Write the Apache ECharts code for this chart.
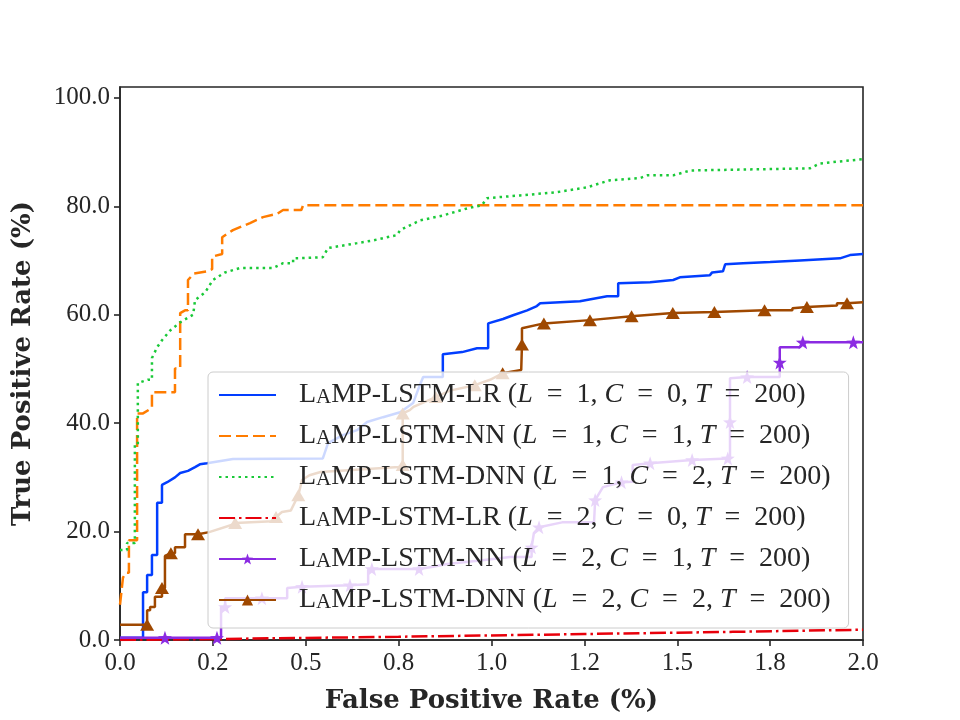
<!DOCTYPE html>
<html>
<head>
<meta charset="utf-8">
<script src="https://cdn.jsdelivr.net/npm/echarts@6/dist/echarts.min.js"></script>
<style>
html, body { margin: 0; padding: 0; background: #fff; }
#chart { width: 960px; height: 720px; }
</style>
</head>
<body>
<div id="chart"></div>
<script>
// ROC curves, values in %: [fpr, tpr] (third item 1 = marker drawn there)
const seriesNames = [
    'LaMP-LSTM-LR (L = 1, C = 0, T = 200)',
    'LaMP-LSTM-NN (L = 1, C = 1, T = 200)',
    'LaMP-LSTM-DNN (L = 1, C = 2, T = 200)',
    'LaMP-LSTM-LR (L = 2, C = 0, T = 200)',
    'LaMP-LSTM-NN (L = 2, C = 1, T = 200)',
    'LaMP-LSTM-DNN (L = 2, C = 2, T = 200)'
];

const xTicks = [0, 0.25, 0.5, 0.75, 1.0, 1.25, 1.5, 1.75, 2.0];
const xTickLabels = ['0.0', '0.2', '0.5', '0.8', '1.0', '1.2', '1.5', '1.8', '2.0'];
const yTicks = [0, 20, 40, 60, 80, 100];
const yTickLabels = ['0.0', '20.0', '40.0', '60.0', '80.0', '100.0'];

const lr1 = [
    [0, 0.4], [0.062, 0.4], [0.062, 8.8], [0.073, 8.8], [0.073, 12.0], [0.086, 12.0], [0.086, 15.7],
    [0.10, 15.7], [0.10, 25.3], [0.113, 25.3], [0.113, 28.6], [0.127, 29.1], [0.148, 30.0], [0.162, 30.8],
    [0.183, 31.2], [0.202, 31.9], [0.215, 32.4], [0.234, 32.6], [0.304, 33.4], [0.546, 33.5], [0.56, 36.3],
    [0.60, 37.8], [0.638, 38.7], [0.665, 40.2], [0.708, 41.1], [0.754, 42.0], [0.789, 43.7], [0.802, 46.1],
    [0.816, 48.5], [0.869, 48.5], [0.869, 52.7], [0.921, 53.1], [0.961, 53.8], [0.991, 53.8], [0.991, 58.4],
    [1.031, 59.2], [1.058, 59.9], [1.096, 60.8], [1.122, 61.6], [1.131, 62.1], [1.238, 62.5], [1.311, 63.4],
    [1.341, 63.4], [1.341, 65.8], [1.427, 66.0], [1.489, 66.4], [1.507, 66.9], [1.588, 67.3], [1.594, 67.8],
    [1.623, 68.0], [1.629, 69.3], [1.677, 69.5], [1.75, 69.7], [1.83, 70.0], [1.938, 70.4], [1.965, 71.0],
    [2.0, 71.2]
];

const nn1 = [
    [0, 6.5], [0.008, 11.5], [0.016, 12.4], [0.024, 12.4], [0.024, 18.4], [0.046, 18.4], [0.046, 41.8],
    [0.062, 41.8], [0.086, 42.8], [0.086, 45.7], [0.148, 45.7], [0.148, 50.1], [0.162, 50.1], [0.162, 60.3],
    [0.175, 60.8], [0.183, 60.8], [0.183, 66.4], [0.199, 67.6], [0.234, 68.0], [0.248, 68.4], [0.248, 70.7],
    [0.275, 71.2], [0.275, 74.3], [0.304, 75.6], [0.35, 76.9], [0.385, 78.0], [0.423, 78.6], [0.439, 79.3],
    [0.488, 79.3], [0.493, 80.2], [2.0, 80.2]
];

const dnn1 = [
    [0, 16.6], [0.019, 16.6], [0.019, 17.9], [0.04, 17.9], [0.04, 36.0], [0.048, 36.0], [0.048, 47.4],
    [0.075, 48.0], [0.086, 48.0], [0.086, 52.0], [0.10, 54.0], [0.113, 55.3], [0.135, 57.1], [0.162, 58.6],
    [0.197, 60.0], [0.202, 62.7], [0.229, 64.1], [0.25, 66.4], [0.283, 67.8], [0.323, 68.6], [0.412, 68.6],
    [0.439, 69.5], [0.466, 69.5], [0.466, 70.4], [0.546, 70.6], [0.56, 72.3], [0.638, 73.2], [0.681, 73.7],
    [0.746, 74.7], [0.754, 75.6], [0.808, 77.4], [0.869, 78.3], [0.934, 79.6], [0.974, 80.2], [0.988, 81.5],
    [1.077, 82.0], [1.176, 82.6], [1.257, 83.5], [1.319, 84.8], [1.40, 85.2], [1.419, 85.7], [1.489, 85.7],
    [1.535, 86.6], [1.857, 87.0], [1.884, 87.9], [2.0, 88.7]
];

const lr2 = [
    [0, 0], [0.28, 0.2], [0.75, 0.6], [1.25, 1.1], [1.65, 1.5], [2.0, 1.9]
];

const nn2 = [
    [0, 0.4], [0.121, 0.4, 1], [0.261, 0.4, 1], [0.272, 0.4], [0.272, 6.0], [0.283, 6.1, 1], [0.283, 7.7],
    [0.382, 7.7, 1], [0.45, 7.7], [0.45, 9.6], [0.49, 9.8, 1], [0.619, 10.1, 1], [0.668, 10.3], [0.668, 12.9],
    [0.678, 13.1, 1], [0.805, 13.1, 1], [0.843, 13.5], [0.88, 14.0], [0.975, 14.7], [1.05, 15.3], [1.108, 15.3],
    [1.108, 17.1, 1], [1.114, 19.7], [1.128, 20.8, 1], [1.19, 21.7], [1.276, 21.7], [1.279, 25.8, 1],
    [1.30, 28.2], [1.35, 29.1, 1], [1.38, 29.2], [1.38, 32.3], [1.427, 32.6, 1], [1.54, 33.2, 1],
    [1.636, 33.5, 1], [1.642, 33.5], [1.642, 40.2, 1], [1.642, 48.3], [1.688, 48.5, 1], [1.776, 48.5],
    [1.776, 51.2, 1], [1.776, 54.0], [1.83, 54.0], [1.838, 54.9, 1], [1.974, 54.9, 1], [2.0, 54.9]
];

const dnn2 = [
    [0, 2.8], [0.073, 2.8, 1], [0.073, 5.5], [0.081, 5.5], [0.081, 6.1], [0.094, 6.1], [0.094, 8.0],
    [0.113, 8.0], [0.113, 9.6, 1], [0.121, 9.6], [0.121, 15.5], [0.137, 16.0, 1], [0.148, 16.0], [0.148, 17.1],
    [0.175, 17.1], [0.175, 19.5], [0.21, 19.5, 1], [0.24, 19.9], [0.30, 21.2], [0.31, 21.6, 1], [0.41, 21.9],
    [0.42, 22.7, 1], [0.436, 23.6], [0.46, 23.9], [0.48, 26.7, 1], [0.49, 29.5], [0.51, 30.4], [0.54, 31.0],
    [0.75, 31.9], [0.761, 32.3, 1], [0.761, 41.8, 1], [0.78, 42.4], [0.79, 43.0], [0.85, 44.8, 1],
    [0.888, 46.0], [0.955, 47.0, 1], [0.996, 48.0], [1.03, 49.2, 1], [1.08, 49.8], [1.082, 54.5, 1],
    [1.082, 57.5], [1.141, 58.4, 1], [1.265, 59.0, 1], [1.377, 59.7, 1], [1.488, 60.3, 1], [1.60, 60.5, 1],
    [1.735, 60.8, 1], [1.81, 60.8], [1.81, 61.2], [1.849, 61.4, 1], [1.93, 61.7], [1.93, 62.1],
    [1.957, 62.1, 1], [2.0, 62.3]
];

const curves = [lr1, nn1, dnn1, lr2, nn2, dnn2];
const colors = ['#023eff', '#ff7c00', '#1ac938', '#e8000b', '#8b2be2', '#9f4800'];
const dashes = ['solid', [12, 5], [2.5, 4], [16, 4, 2.5, 4], 'solid', 'solid'];

const textColor = '#262626';
const serif = "'Liberation Serif', 'DejaVu Serif', serif";
const titleFont = "'DejaVu Serif', serif";

// five point star for the matplotlib '*' marker
const starPath = (function () {
    let d = '';
    for (let i = 0; i < 10; i++) {
        const r = i % 2 ? 0.4 : 1;
        const a = Math.PI / 2 + i * Math.PI / 5;
        d += (i ? 'L' : 'M') + (r * Math.cos(a)).toFixed(3) + ',' + (-r * Math.sin(a)).toFixed(3);
    }
    return 'path://' + d + 'Z';
})();
const symbols = ['none', 'none', 'none', 'none', starPath, 'triangle'];
const symbolSizes = [0, 0, 0, 0, 14, [14, 12]];

function toData(points) {
    return points.map(p => {
        const item = { value: [p[0], p[1]] };
        if (!p[2]) item.symbol = 'none';
        return item;
    });
}

const chart = echarts.init(document.getElementById('chart'), null, { renderer: 'canvas' });

chart.setOption({
    animation: false,
    backgroundColor: '#ffffff',
    grid: {
        left: 120,
        right: 97,
        top: 87,
        bottom: 80,
        show: true,
        borderColor: textColor,
        borderWidth: 1.6,
        backgroundColor: 'transparent'
    },
    legend: {
        orient: 'vertical',
        left: 208,
        top: 372,
        itemWidth: 57,
        itemHeight: 14,
        itemGap: 11,
        padding: [8, 18, 13, 10],
        backgroundColor: 'rgba(255,255,255,0.8)',
        borderColor: '#cccccc',
        borderWidth: 1,
        borderRadius: 5,
        // plain lines have no marker in the legend
        data: seriesNames.map((n, i) => symbols[i] === 'none' ? { name: n, itemStyle: { opacity: 0 } } : { name: n }),
        formatter: function (name) {
            return name.replace('LaMP', 'L{sc|A}MP')
                .replace(/ = /g, '\u2002=\u2002')
                .replace(/([LCT])(?=\u2002=)/g, '{i|$1}');
        },
        textStyle: {
            fontFamily: serif,
            fontSize: 28,
            lineHeight: 30,
            color: textColor,
            padding: [0, 0, 0, 18],
            rich: {
                sc: { fontFamily: serif, fontSize: 21, lineHeight: 30, color: textColor, verticalAlign: 'bottom', padding: [0, 0, 2, 0] },
                i: { fontFamily: serif, fontSize: 28, lineHeight: 30, fontStyle: 'italic', color: textColor }
            }
        }
    },
    xAxis: {
        type: 'value',
        min: 0,
        max: 2,
        name: 'False Positive Rate (%)',
        nameLocation: 'middle',
        nameGap: 48,
        nameTextStyle: { fontFamily: titleFont, fontSize: 26, fontWeight: 'bold', color: textColor },
        axisLine: { show: true, lineStyle: { color: textColor, width: 1.6 } },
        axisTick: { show: true, length: 6, lineStyle: { color: textColor, width: 1.6 }, customValues: xTicks },
        axisLabel: {
            customValues: xTicks,
            margin: 11,
            fontFamily: serif,
            fontSize: 25,
            color: textColor,
            formatter: v => xTickLabels[xTicks.findIndex(t => Math.abs(t - v) < 1e-6)]
        },
        splitLine: { show: false }
    },
    yAxis: {
        type: 'value',
        min: 0,
        max: 102,
        name: 'True Positive Rate (%)',
        nameLocation: 'middle',
        nameGap: 84,
        nameTextStyle: { fontFamily: titleFont, fontSize: 26, fontWeight: 'bold', color: textColor },
        axisLine: { show: true, lineStyle: { color: textColor, width: 1.6 } },
        axisTick: { show: true, length: 6, lineStyle: { color: textColor, width: 1.6 }, customValues: yTicks },
        axisLabel: {
            customValues: yTicks,
            margin: 10,
            fontFamily: serif,
            fontSize: 25,
            color: textColor,
            formatter: v => yTickLabels[yTicks.findIndex(t => Math.abs(t - v) < 1e-6)]
        },
        splitLine: { show: false }
    },
    series: curves.map((pts, i) => ({
        name: seriesNames[i],
        type: 'line',
        data: toData(pts),
        symbol: symbols[i],
        symbolSize: symbolSizes[i],
        showSymbol: true,
        color: colors[i],
        itemStyle: { color: colors[i] },
        lineStyle: { color: colors[i], width: 2.5, type: dashes[i], cap: 'butt' },
        emphasis: { disabled: true }
    }))
});
</script>
</body>
</html>
